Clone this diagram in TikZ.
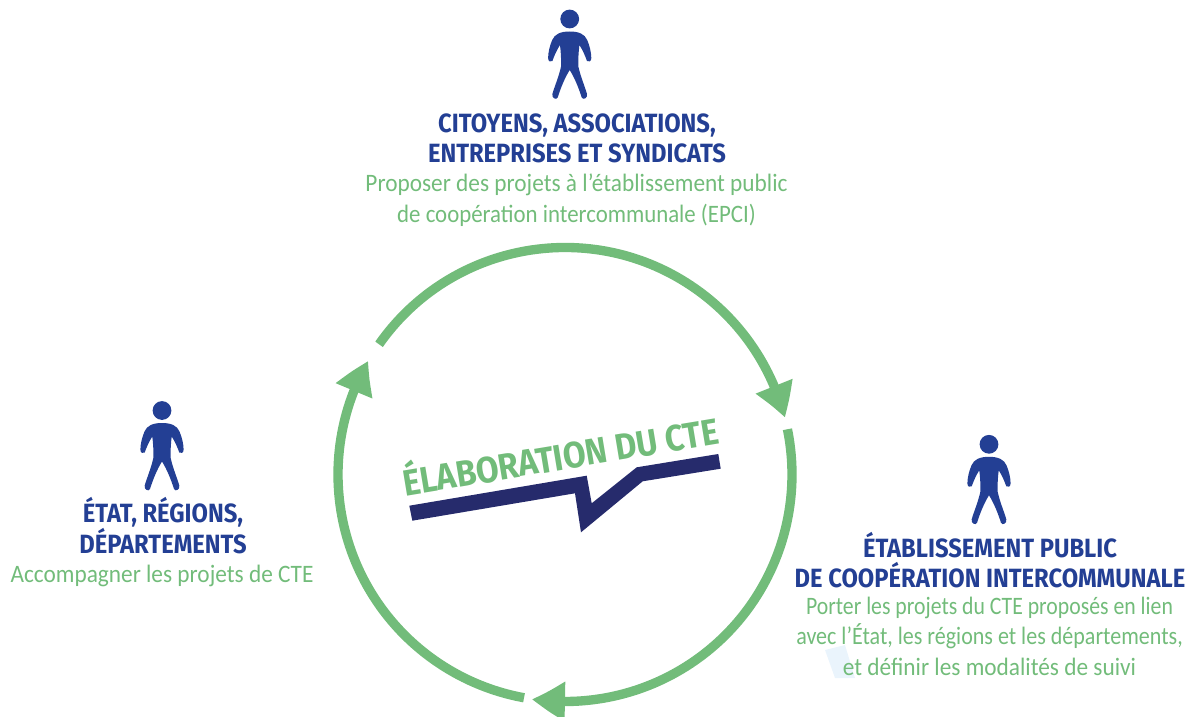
\documentclass[tikz,border=0pt]{standalone}
\usepackage{fontspec}
\usetikzlibrary{arrows.meta,bending}
\setmainfont[FakeStretch=0.93]{Carlito}
\newfontfamily\titlefont[FakeStretch=0.9]{Fira Sans}
\newcommand\squeezeline[2]{\scalebox{#1}[1]{#2}}
\definecolor{ringgreen}{HTML}{72BC7A}
\definecolor{navybar}{HTML}{262B6C}
\definecolor{personblue}{HTML}{233F94}
\definecolor{smudge}{HTML}{EAF4FC}
\tikzset{
  x=0.75pt,y=-0.75pt,
  ring/.style={draw=ringgreen,line width=7pt,-{Triangle[length=25pt,width=28pt,bend]}},
  ringlabel/.style={text=ringgreen,font=\titlefont\bfseries\fontsize{27.5}{27.5}\selectfont},
  titlebox/.style={text=personblue,align=center,inner sep=0pt,font=\titlefont\bfseries\fontsize{19.8}{22.2}\selectfont},
  bodybox/.style={text=ringgreen,align=center,inner sep=0pt,font=\fontsize{18.8}{22.7}\selectfont},
  person/.pic={
    \fill[personblue] (0,0) circle[radius=9.4];
    \fill[personblue]
      (0,12.5) .. controls (-9,12.5) and (-15,15) .. (-17.5,21)
      .. controls (-20,27) and (-21.5,33) .. (-21.6,39)
      .. controls (-21.7,42) and (-19,44) .. (-17.3,42)
      .. controls (-15.5,37) and (-13,31) .. (-9.7,26)
      .. controls (-8.8,33) and (-8.4,41) .. (-8.7,47.7)
      .. controls (-11,58) and (-15,67) .. (-17.3,75)
      .. controls (-18.2,79) and (-13.5,81.5) .. (-12,78.5)
      .. controls (-9,69) and (-5,59) .. (0,51)
      .. controls (5,59) and (9,69) .. (12,78.5)
      .. controls (13.5,81.5) and (18.2,79) .. (17.3,75)
      .. controls (15,67) and (11,58) .. (8.7,47.7)
      .. controls (8.4,41) and (8.8,33) .. (9.7,26)
      .. controls (13,31) and (15.5,37) .. (17.3,42)
      .. controls (19,44) and (21.7,42) .. (21.6,39)
      .. controls (21.5,33) and (20,27) .. (17.5,21)
      .. controls (15,15) and (9,12.5) .. (0,12.5) -- cycle;
  }
}
\begin{document}
\begin{tikzpicture}
\path[use as bounding box] (0,0) rectangle (1193,717);
\coordinate (c) at (565,474.5);
% faint smudge
\fill[smudge] (825,650) -- (845,645) -- (855,678) -- (835,678) -- cycle;
% cycle arrows
\draw[ring] (c) ++(-145:227) arc[start angle=-145,end angle=-14.5,radius=227];
\draw[ring] (c) ++(-11.5:227) arc[start angle=-11.5,end angle=98.4,radius=227];
\draw[ring] (c) ++(100.4:227) arc[start angle=100.4,end angle=210,radius=227];
% centre
\fill[navybar] (409.3,505.7) -- (586.7,475.7) -- (591.7,503.3) -- (636.7,467.3) -- (718.3,454)
  -- (720.7,468.7) -- (642.7,481.3) -- (581,532.3) -- (575,493.3) -- (412.3,520.7) -- cycle;
\node[ringlabel,anchor=base,rotate=9.4,inner sep=0pt] (centre) at (562.7,470) {ÉLABORATION DU CTE};
% people
\pic at (569.7,19) {person};
\pic at (162,410.5) {person};
\pic at (989,444.3) {person};
% texts
\node[titlebox,anchor=base] (t1) at (577,162) {CITOYENS, ASSOCIATIONS,\\ENTREPRISES ET SYNDICATS};
\node[bodybox,anchor=base] (b1) at (576.5,222) {Proposer des projets à l’établissement public\\\squeezeline{0.98}{de coopération intercommunale (EPCI)}};
\node[titlebox,anchor=base] (t2) at (163,553.5) {ÉTAT, RÉGIONS,\\DÉPARTEMENTS};
\node[bodybox,anchor=base] (b2) at (162,582) {Accompagner les projets de CTE};
\node[titlebox,anchor=base] (t3) at (990,587) {ÉTABLISSEMENT PUBLIC\\DE COOPÉRATION INTERCOMMUNALE};
\node[bodybox,anchor=base] (b3) at (989.5,675) {\squeezeline{0.933}{Porter les projets du CTE proposés en lien}\\\squeezeline{0.945}{avec l’État, les régions et les départements,}\\et définir les modalités de suivi};
\end{tikzpicture}
\end{document}
